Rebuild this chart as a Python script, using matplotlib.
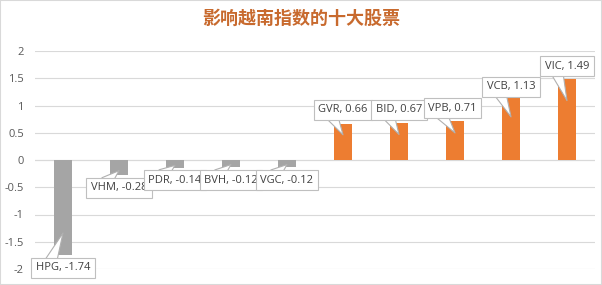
import numpy as np
import matplotlib.pyplot as plt
from matplotlib.patches import Rectangle

plt.rcParams['font.family'] = ['Open Sans', 'DejaVu Sans']

tickers = ['HPG', 'VHM', 'PDR', 'BVH', 'VGC', 'GVR', 'BID', 'VPB', 'VCB', 'VIC']
values = [-1.74, -0.28, -0.14, -0.12, -0.12, 0.66, 0.67, 0.71, 1.13, 1.49]
title = '影响越南指数的十大股票'

# where each callout box sits (data units)
label_y = [-1.98, -0.51, -0.37, -0.37, -0.37, 0.92, 0.92, 0.95, 1.34, 1.72]
label_dx = [0.0, 0.0, 0.0, 0.0, 0.0, 0.0, 0.0, -0.05, 0.0, 0.0]

fig = plt.figure(figsize=(6.02, 2.85), dpi=100)
fig.patches.append(Rectangle((0, 0), 1, 1, transform=fig.transFigure, fill=False,
                             ec='#D9D9D9', lw=1.5))
ax = fig.add_axes([35/602, 16/285, 560/602, 218/285])

x = np.arange(len(tickers))
cols = ['#A5A5A5' if v < 0 else '#ED7D31' for v in values]
ax.bar(x, values, width=0.32, color=cols, zorder=3)

ax.set_xlim(-0.5, len(tickers) - 0.5)
ax.set_ylim(-2, 2)
ax.set_yticks(np.arange(-2, 2.01, 0.5))
ax.set_yticklabels(['-2', '-1.5', '-1', '-0.5', '0', '0.5', '1', '1.5', '2'])
ax.set_xticks([])
ax.grid(axis='y', color='#D9D9D9', lw=0.8, zorder=0)
ax.axhline(0, color='#D9D9D9', lw=0.8, zorder=1)
for s in ax.spines.values():
    s.set_visible(False)
ax.tick_params(axis='y', length=0, labelsize=8, labelcolor='#595959', pad=8)

for i in range(len(tickers)):
    v = values[i]
    tip = v - np.sign(v) * min(0.4, abs(v) * 0.3)
    rp = (0.27, 0.0) if v > 0 else (0.27, 1.0)
    ax.annotate('%s, %.2f' % (tickers[i], v), xy=(x[i], tip),
                xytext=(x[i] + label_dx[i], label_y[i]), ha='center', va='center',
                fontsize=8, color='#404040', zorder=5,
                bbox=dict(boxstyle='square,pad=0.4', fc='white', ec='#BFBFBF', lw=0.8),
                arrowprops=dict(arrowstyle='wedge,tail_width=1.1,shrink_factor=0.5',
                                fc='white', ec='#B0B0B0', lw=0.8, relpos=rp,
                                patchA=None, shrinkA=0, shrinkB=0))

fig.text(0.5, 0.935, title, ha='center', va='center', fontsize=13, fontweight='bold',
         color='#C86A2E', family=['Noto Sans CJK SC', 'DejaVu Sans'])

fig.savefig('out.png', dpi=100)
